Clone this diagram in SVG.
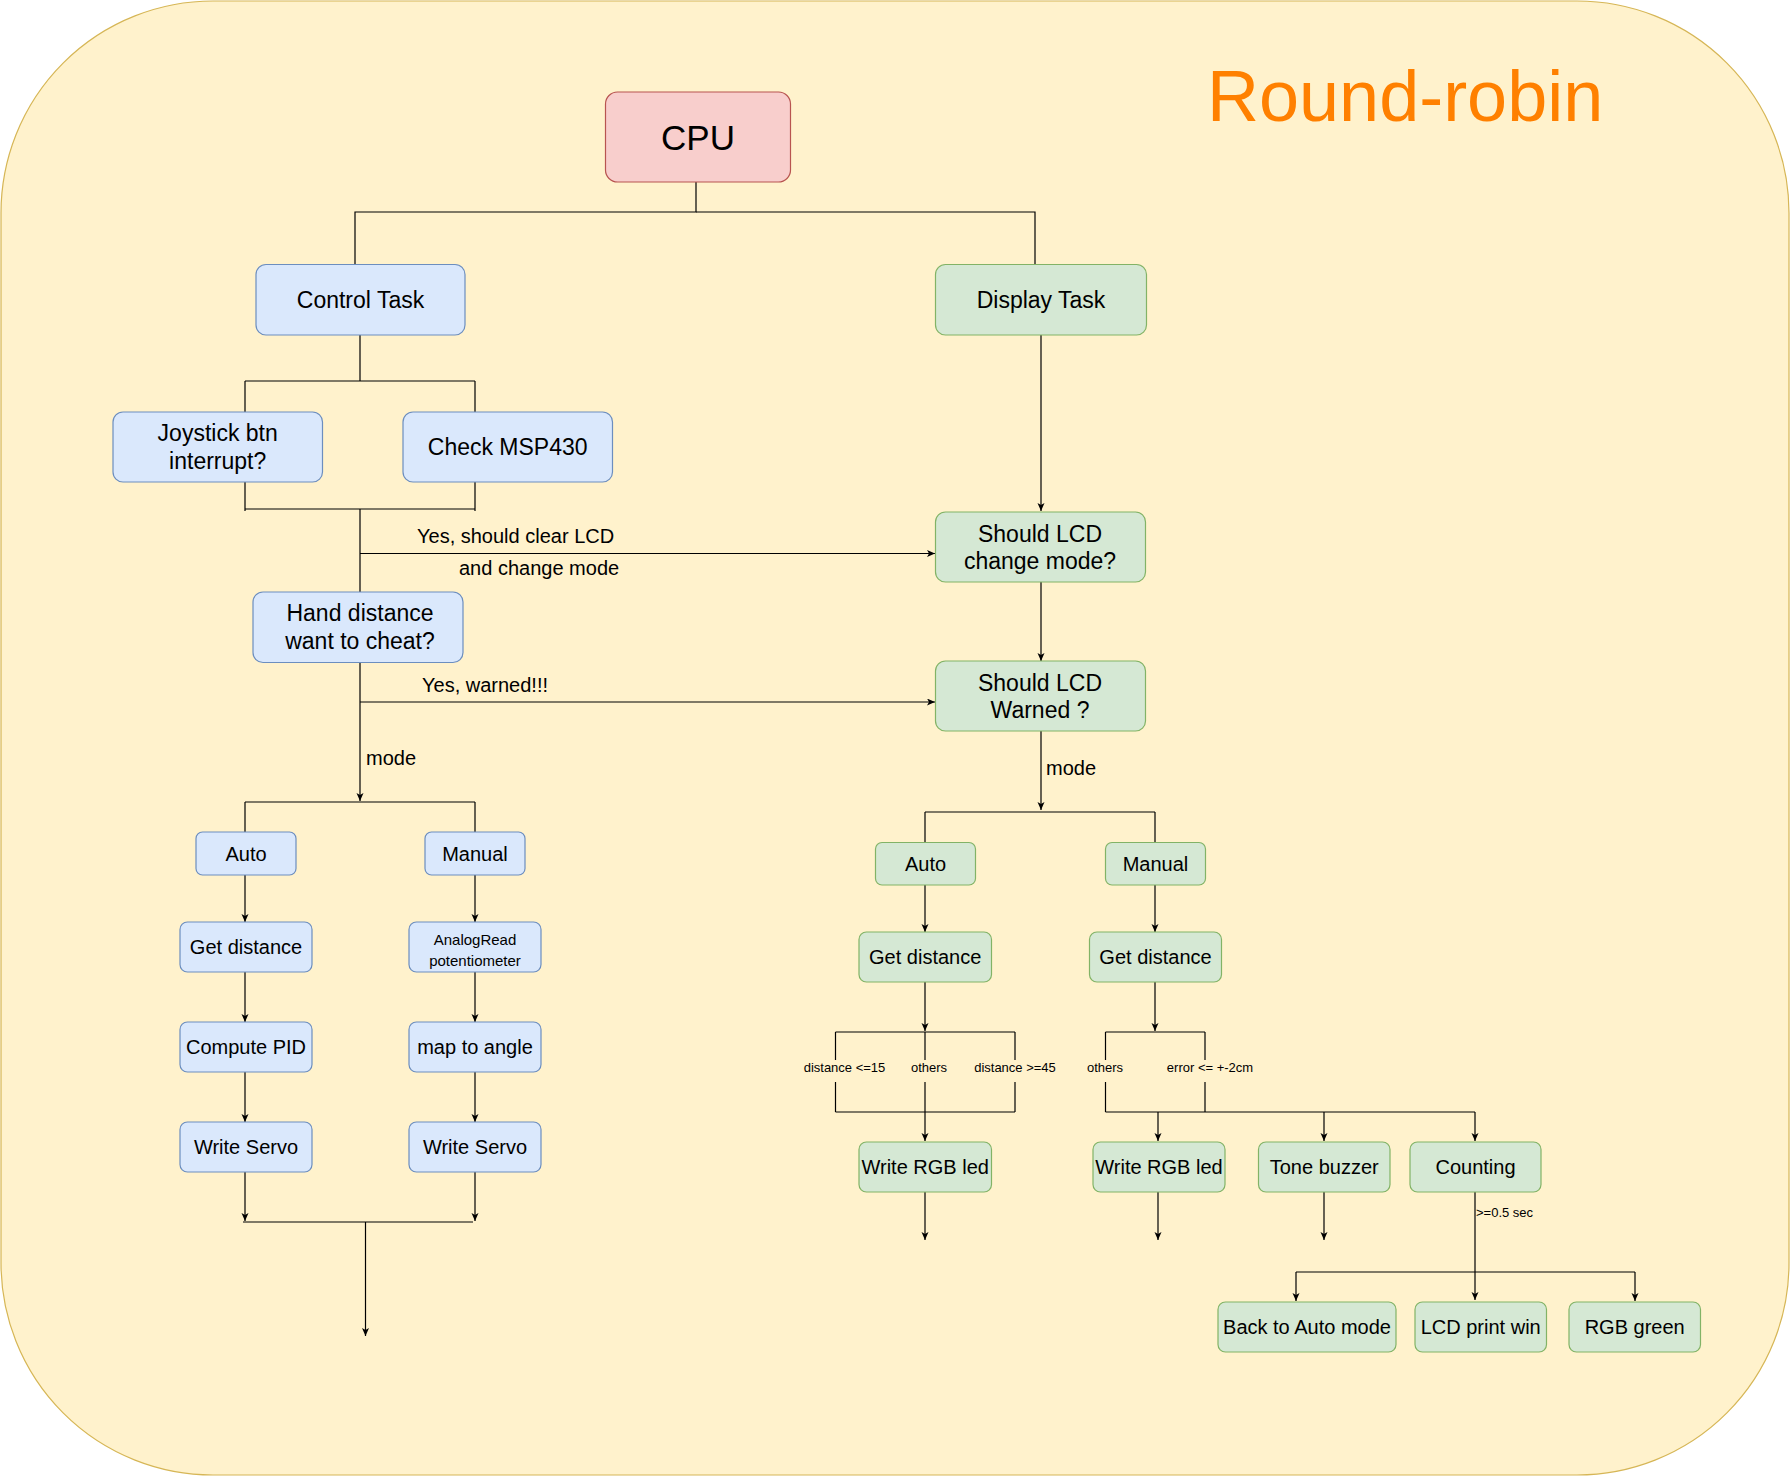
<svg xmlns="http://www.w3.org/2000/svg" width="1791" height="1477" viewBox="0 0 1791 1477">
<style>
.t{font-family:"Liberation Sans",Arial,sans-serif;fill:#000;text-anchor:middle}
.b{font-size:23px}
.m{font-size:20px}
.s{font-size:13px}
.l{text-anchor:start}
.blue{fill:#dae8fc;stroke:#6c8ebf;stroke-width:1.2}
.green{fill:#d5e8d4;stroke:#82b366;stroke-width:1.2}
.red{fill:#f8cecc;stroke:#b85450;stroke-width:1.2}
.c{fill:none;stroke:#000;stroke-width:1.2}
.a{marker-end:url(#arr)}
</style>
<defs>
<marker id="arr" markerUnits="userSpaceOnUse" markerWidth="10" markerHeight="10" refX="8" refY="3.5" orient="auto">
<path d="M0,0 L8,3.5 L0,7 L2,3.5 Z" fill="#000"/>
</marker>
</defs>
<rect x="1" y="1" width="1788" height="1474" rx="212" ry="212" fill="#fff2cc" stroke="#d6b656" stroke-width="1.2"/>
<text class="t l" x="1207" y="121" font-size="72" style="fill:#ff8000">Round-robin</text>

<g id="connectors">
<path class="c" d="M696,182 V212 H355 V264.5"/>
<path class="c" d="M696,212 H1035 V264.5"/>
<path class="c a" d="M1041,335 V511"/>
<path class="c" d="M360,335 V381 M245,381 H475 M245,381 V412 M475,381 V412"/>
<path class="c" d="M245,482 V511 M475,482 V511 M245,509 H475 M360,509 V592"/>
<path class="c a" d="M360,553.5 H935"/>
<path class="c a" d="M360,662.5 V801"/>
<path class="c a" d="M360,702 H935"/>
<path class="c" d="M245,802 H475 M245,802 V832 M475,802 V832"/>
<path class="c a" d="M245,875 V922"/>
<path class="c a" d="M245,972 V1022"/>
<path class="c a" d="M245,1072 V1122"/>
<path class="c a" d="M245,1172 V1221"/>
<path class="c a" d="M475,875 V922"/>
<path class="c a" d="M475,972 V1022"/>
<path class="c a" d="M475,1072 V1122"/>
<path class="c a" d="M475,1172 V1221"/>
<path class="c" d="M243,1222 H473"/>
<path class="c a" d="M365.5,1222 V1336"/>
<path class="c a" d="M1041,582 V661"/>
<path class="c a" d="M1041,731 V810"/>
<path class="c" d="M925,812 H1155 M925,812 V842.5 M1155,812 V842.5"/>
<path class="c a" d="M925,885 V932"/>
<path class="c a" d="M1155,885 V932"/>
<path class="c a" d="M925,982 V1031"/>
<path class="c" d="M835.5,1032 H1015 M835.5,1032 V1060 M835.5,1082 V1112 M1015,1032 V1060 M1015,1082 V1112 M925,1032 V1060 M835.5,1112 H1015"/>
<path class="c a" d="M925,1082 V1141"/>
<path class="c a" d="M1155,982 V1031"/>
<path class="c" d="M1105.5,1032 H1205 M1105.5,1032 V1060 M1105.5,1082 V1112 M1205,1032 V1060 M1205,1082 V1112 M1105.5,1112 H1475"/>
<path class="c a" d="M1158,1112 V1141"/>
<path class="c a" d="M1324,1112 V1141"/>
<path class="c a" d="M1475,1112 V1141"/>
<path class="c a" d="M925,1192 V1240"/>
<path class="c a" d="M1158,1192 V1240"/>
<path class="c a" d="M1324,1192 V1240"/>
<path class="c a" d="M1475,1192 V1300"/>
<path class="c" d="M1296,1272 H1635"/>
<path class="c a" d="M1296,1272 V1301"/>
<path class="c a" d="M1635,1272 V1301"/>
<text class="t m l" x="417" y="543">Yes, should clear LCD</text>
<text class="t m l" x="459" y="575">and change mode</text>
<text class="t m l" x="422" y="692">Yes, warned!!!</text>
<text class="t m l" x="366" y="765">mode</text>
<text class="t m l" x="1046" y="775">mode</text>
<text class="t s" x="844.5" y="1072">distance &lt;=15</text>
<text class="t s" x="929" y="1072">others</text>
<text class="t s" x="1015" y="1072">distance &gt;=45</text>
<text class="t s" x="1105" y="1072">others</text>
<text class="t s" x="1210" y="1072">error &lt;= +-2cm</text>
<text class="t s l" x="1476" y="1217">&gt;=0.5 sec</text>
</g>

<g id="cpu"><rect class="red" x="605.5" y="92" width="185" height="90" rx="12"/><text class="t" x="698" y="149.5" font-size="35">CPU</text></g>
<g id="control-task"><rect class="blue" x="256" y="264.5" width="209" height="70.5" rx="10"/><text class="t b" x="360.5" y="307.5">Control Task</text></g>
<g id="display-task"><rect class="green" x="935.5" y="264.5" width="211" height="70.5" rx="10"/><text class="t b" x="1041" y="307.5">Display Task</text></g>
<g id="joystick"><rect class="blue" x="113" y="412" width="209.5" height="70" rx="10"/><text class="t b" x="217.7" y="441.3">Joystick btn</text><text class="t b" x="217.7" y="469">interrupt?</text></g>
<g id="check-msp430"><rect class="blue" x="403" y="412" width="209.5" height="70" rx="10"/><text class="t b" x="507.7" y="455">Check MSP430</text></g>
<g id="hand-distance"><rect class="blue" x="253" y="592" width="210" height="70.5" rx="10"/><text class="t b" x="360" y="621.4">Hand distance</text><text class="t b" x="360" y="649">want to cheat?</text></g>
<g id="lcd-change-mode"><rect class="green" x="935.5" y="512" width="210" height="70" rx="10"/><text class="t b" x="1040" y="541.6">Should LCD</text><text class="t b" x="1040" y="569.2">change mode?</text></g>
<g id="lcd-warned"><rect class="green" x="935.5" y="661" width="210" height="70" rx="10"/><text class="t b" x="1040" y="690.6">Should LCD</text><text class="t b" x="1040" y="718.2">Warned ?</text></g>
<g id="l-auto"><rect class="blue" x="196" y="832" width="100" height="43" rx="6.5"/><text class="t m" x="246" y="860.5">Auto</text></g>
<g id="l-manual"><rect class="blue" x="425" y="832" width="100" height="43" rx="6.5"/><text class="t m" x="475" y="860.5">Manual</text></g>
<g id="l-get-distance"><rect class="blue" x="180" y="922" width="132" height="50" rx="7.5"/><text class="t m" x="246" y="954">Get distance</text></g>
<g id="l-analogread"><rect class="blue" x="409" y="922" width="132" height="50" rx="7.5"/><text class="t" x="475" y="945" font-size="15">AnalogRead</text><text class="t" x="475" y="966" font-size="15">potentiometer</text></g>
<g id="l-compute-pid"><rect class="blue" x="180" y="1022" width="132" height="50" rx="7.5"/><text class="t m" x="246" y="1054">Compute PID</text></g>
<g id="l-map-angle"><rect class="blue" x="409" y="1022" width="132" height="50" rx="7.5"/><text class="t m" x="475" y="1054">map to angle</text></g>
<g id="l-write-servo-1"><rect class="blue" x="180" y="1122" width="132" height="50" rx="7.5"/><text class="t m" x="246" y="1154">Write Servo</text></g>
<g id="l-write-servo-2"><rect class="blue" x="409" y="1122" width="132" height="50" rx="7.5"/><text class="t m" x="475" y="1154">Write Servo</text></g>
<g id="r-auto"><rect class="green" x="875.5" y="842.5" width="100" height="42.5" rx="6.5"/><text class="t m" x="925.5" y="870.7">Auto</text></g>
<g id="r-manual"><rect class="green" x="1105.5" y="842.5" width="100" height="42.5" rx="6.5"/><text class="t m" x="1155.5" y="870.7">Manual</text></g>
<g id="r-get-distance-1"><rect class="green" x="859" y="932" width="132.5" height="50" rx="7.5"/><text class="t m" x="925.2" y="964">Get distance</text></g>
<g id="r-get-distance-2"><rect class="green" x="1089.5" y="932" width="132" height="50" rx="7.5"/><text class="t m" x="1155.5" y="964">Get distance</text></g>
<g id="r-write-rgb-1"><rect class="green" x="859" y="1142" width="132.5" height="50" rx="7.5"/><text class="t m" x="925.2" y="1174">Write RGB led</text></g>
<g id="r-write-rgb-2"><rect class="green" x="1093" y="1142" width="132" height="50" rx="7.5"/><text class="t m" x="1159" y="1174">Write RGB led</text></g>
<g id="tone-buzzer"><rect class="green" x="1258.5" y="1142" width="131.5" height="50" rx="7.5"/><text class="t m" x="1324.2" y="1174">Tone buzzer</text></g>
<g id="counting"><rect class="green" x="1410" y="1142" width="131" height="50" rx="7.5"/><text class="t m" x="1475.5" y="1174">Counting</text></g>
<g id="back-auto"><rect class="green" x="1218" y="1302" width="178" height="50" rx="7.5"/><text class="t m" x="1307" y="1334">Back to Auto mode</text></g>
<g id="lcd-print-win"><rect class="green" x="1415" y="1302" width="131.5" height="50" rx="7.5"/><text class="t m" x="1480.7" y="1334">LCD print win</text></g>
<g id="rgb-green"><rect class="green" x="1569" y="1302" width="131.5" height="50" rx="7.5"/><text class="t m" x="1634.7" y="1334">RGB green</text></g>
</svg>
